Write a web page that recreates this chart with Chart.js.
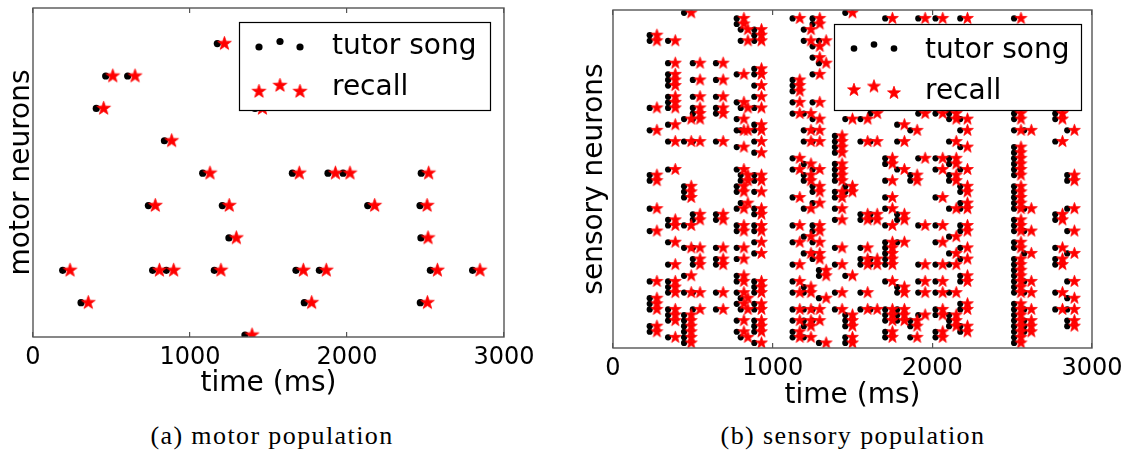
<!DOCTYPE html>
<html lang="en">
<head>
<meta charset="UTF-8">
<title>tutor song / recall rasters</title>
<script src="https://cdn.jsdelivr.net/npm/chart.js"></script>
<style>
  body { margin: 0; width: 1144px; height: 457px; background: #fff; position: relative; overflow: hidden; }
  .panel { position: absolute; top: 0; }
  #motorBox { left: 0; width: 560px; height: 410px; }
  #sensoryBox { left: 570px; width: 574px; height: 420px; }
  .caption {
    position: absolute; top: 421px; transform: translateX(-50%);
    font-family: "Liberation Serif", "DejaVu Serif", serif; font-size: 26px;
    letter-spacing: 1.4px; white-space: nowrap; color: #000;
  }
</style>
</head>
<body>
<div class="panel" id="motorBox"><canvas id="motorChart"></canvas></div>
<div class="panel" id="sensoryBox"><canvas id="sensoryChart"></canvas></div>
<div class="caption" style="left:272px">(a) motor population</div>
<div class="caption" style="left:853px">(b) sensory population</div>

<script>
// ---- data (ms) ----
const xTicks = [0, 1000, 2000, 3000];

// motor population: one list of spike times per neuron (neuron 0 = bottom row)
const motorNeurons = [0, 1, 2, 3, 4, 5, 6, 7, 8, 9];
const motorTutorTimes = [
  [1350],
  [306, 1728, 2467],
  [189, 762, 849, 1155, 1675, 1824, 2531, 2800],
  [1248, 2471],
  [735, 1206, 2132, 2465],
  [1081, 1652, 1879, 1975, 2473],
  [837],
  [403, 1414],
  [463, 603],
  [1174]
];
const motorRecallTimes = [
  [1395],
  [352, 1775, 2512],
  [236, 805, 896, 1197, 1722, 1868, 2576, 2847],
  [1295, 2516],
  [779, 1250, 2176, 2510],
  [1127, 1696, 1926, 2019, 2520],
  [883],
  [450, 1461],
  [508, 650],
  [1219]
];

// sensory population: spike columns (time) and the neurons firing in each
const sensoryTutorTimes  = [230, 345, 445, 500, 645, 775, 800, 885, 1125, 1195, 1250, 1290, 1390, 1455,
                            1550, 1612, 1705, 1780, 1862, 1912, 2020, 2105, 2175, 2512, 2575, 2770, 2845];
const sensoryRecallTimes = [275, 390, 490, 545, 690, 820, 845, 930, 1170, 1240, 1295, 1335, 1435, 1500,
                            1595, 1655, 1750, 1825, 1905, 1955, 2065, 2150, 2220, 2555, 2620, 2815, 2890];
const sensoryNeurons = [
  [55, 54, 42, 38, 30, 29, 24, 20, 11, 8, 7, 6, 3, 2],
  [54, 50, 48, 47, 46, 44, 43, 42, 39, 36, 31, 22, 21, 18, 14, 11, 10, 9, 6, 5, 4, 1],
  [59, 40, 36, 28, 27, 26, 21, 17, 12, 9, 5, 4, 3, 2, 1, 0],
  [50, 47, 44, 42, 41, 40, 36, 23, 22, 17, 15, 14, 9, 6],
  [50, 47, 44, 42, 41, 36, 23, 22, 17, 15, 14, 9, 6],
  [58, 57, 48, 43, 40, 38, 35, 31, 28, 27, 24, 21, 20, 17, 15, 12, 11, 9, 7, 4, 2],
  [56, 54, 42, 38, 30, 29, 25, 8, 6, 1],
  [56, 55, 54, 49, 48, 46, 44, 42, 39, 38, 36, 34, 30, 29, 27, 24, 23, 21, 20, 18, 16, 11, 10, 9, 7, 6, 4, 3, 2, 0],
  [58, 47, 46, 45, 43, 41, 33, 31, 26, 21, 18, 14, 11, 9, 6, 4, 2, 1],
  [56, 54, 41, 38, 36, 32, 30, 29, 24, 19, 16, 10, 9, 6, 4, 3, 1],
  [58, 57, 53, 51, 48, 43, 40, 38, 36, 31, 28, 27, 25, 21, 20, 18, 16, 15, 6, 4],
  [54, 50, 13, 12, 8, 0],
  [37, 36, 35, 34, 32, 31, 30, 29, 27, 26, 24, 22, 17, 14, 9, 6],
  [59, 40, 28, 27, 12, 5, 4, 3, 1, 0],
  [40, 36, 23, 22, 17, 15, 14, 9, 6],
  [41, 36, 23, 22, 15, 14, 6],
  [58, 33, 32, 29, 26, 24, 21, 18, 17, 16, 15, 14, 11, 6, 5, 4, 2, 1],
  [39, 36, 31, 23, 22, 18, 10, 9, 6, 5, 4],
  [38, 30, 29, 4, 3, 1],
  [58, 41, 33, 21, 14, 11, 9, 5],
  [58, 41, 33, 31, 26, 21, 18, 14, 11, 9, 6, 5, 2, 1],
  [41, 40, 36, 33, 32, 30, 29, 24, 19, 16, 14, 9, 5, 4, 3],
  [58, 40, 38, 35, 31, 28, 27, 25, 24, 21, 20, 17, 15, 12, 11, 7, 6, 3, 2],
  [58, 41, 40, 38, 35, 34, 33, 32, 31, 30, 28, 27, 26, 25, 24, 22, 21, 20, 18, 17, 15, 14, 13, 12, 11, 10, 9, 7, 6, 5, 4, 3, 2, 1, 0],
  [38, 24, 20, 16, 11, 9, 6, 4, 3, 2],
  [41, 40, 36, 23, 22, 17, 15, 14, 9, 6],
  [38, 30, 29, 24, 20, 16, 11, 8, 6, 4, 3]
];

// ---- helpers ----
function byNeuron(neurons, times) {
  const pts = [];
  neurons.forEach((n, i) => times[i].forEach(t => pts.push({ x: t, y: n })));
  return pts;
}
function byColumn(times, neuronLists) {
  const pts = [];
  times.forEach((t, i) => neuronLists[i].forEach(n => pts.push({ x: t, y: n })));
  return pts;
}

// filled five-point star like matplotlib's '*'
function starImage(outer, color) {
  const s = Math.ceil(outer * 2 + 4);
  const c = document.createElement('canvas');
  c.width = s; c.height = s;
  const g = c.getContext('2d');
  g.translate(s / 2, s / 2);
  g.beginPath();
  for (let k = 0; k < 10; k++) {
    const r = k % 2 ? outer * 0.4 : outer;
    const a = -Math.PI / 2 + k * Math.PI / 5;
    g.lineTo(r * Math.cos(a), r * Math.sin(a));
  }
  g.closePath();
  g.fillStyle = color;
  g.fill();
  g.lineWidth = 0.8;
  g.strokeStyle = color;
  g.stroke();
  return c;
}

const FONT = '"DejaVu Sans", Verdana, sans-serif';

// frame around the axes + the boxed legend with three markers per entry
const frameAndLegend = {
  id: 'frameAndLegend',
  afterDatasetsDraw(chart, args, o) {
    const ctx = chart.ctx, a = chart.chartArea;
    ctx.save();
    ctx.strokeStyle = '#555';
    ctx.lineWidth = 1.4;
    ctx.strokeRect(a.left, a.top, a.right - a.left, a.bottom - a.top);

    const x0 = Math.round(a.right - o.right - o.width), y0 = Math.round(a.top + o.top);
    ctx.fillStyle = '#fff';
    ctx.fillRect(x0, y0, o.width, o.height);
    ctx.strokeStyle = '#000';
    ctx.lineWidth = 1.2;
    ctx.strokeRect(x0 + 0.5, y0 + 0.5, o.width, o.height);

    o.markerX.forEach((mx, k) => {
      ctx.fillStyle = '#000';
      ctx.beginPath();
      ctx.arc(x0 + mx, y0 + o.dotY[k], o.dotR, 0, 2 * Math.PI);
      ctx.fill();
      ctx.drawImage(o.star, x0 + mx - o.star.width / 2, y0 + o.starY[k] - o.star.height / 2);
    });
    ctx.fillStyle = '#000';
    ctx.font = '28px ' + FONT;
    ctx.textBaseline = 'alphabetic';
    const ds = chart.data.datasets;
    ctx.fillText(ds[1].label, x0 + o.textX, y0 + o.textY[0]);
    ctx.fillText(ds[0].label, x0 + o.textX, y0 + o.textY[1]);
    ctx.restore();
  }
};

function rasterChart(id, cfg) {
  const tickGrid = { drawOnChartArea: false, drawTicks: true, tickLength: -5, color: '#555', lineWidth: 1.2 };
  return new Chart(document.getElementById(id), {
    type: 'scatter',
    data: {
      datasets: [
        { label: 'recall', data: cfg.recall, pointStyle: cfg.starImg, pointRadius: cfg.starR,
          hoverRadius: cfg.starR, clip: 0, order: 0 },
        { label: 'tutor song', data: cfg.tutor, pointStyle: 'circle', pointRadius: cfg.dotR,
          backgroundColor: '#000', borderWidth: 0, clip: 0, order: 1 }
      ]
    },
    options: {
      responsive: true,
      maintainAspectRatio: false,
      animation: false,
      events: [],
      layout: { padding: cfg.padding },
      plugins: {
        legend: { display: false },
        tooltip: { enabled: false },
        frameAndLegend: cfg.legend
      },
      scales: {
        x: {
          type: 'linear', position: 'bottom', min: 0, max: 3000,
          afterBuildTicks: s => { s.ticks = xTicks.map(v => ({ value: v })); },
          ticks: { color: '#000', font: { family: FONT, size: 24 }, padding: 11, maxRotation: 0, autoSkip: false,
                   callback: v => String(v) },
          grid: tickGrid,
          border: { display: false },
          title: { display: true, text: 'time (ms)', color: '#000', font: { family: FONT, size: 28 },
                   padding: { top: 0, bottom: cfg.xTitlePad } },
          afterFit: s => { s.height = cfg.xHeight; }
        },
        xTop: {
          type: 'linear', position: 'top', min: 0, max: 3000,
          afterBuildTicks: s => { s.ticks = xTicks.map(v => ({ value: v })); },
          ticks: { display: false },
          grid: tickGrid,
          border: { display: false },
          afterFit: s => { s.height = 0; }
        },
        y: {
          type: 'linear', position: 'left', min: cfg.yMin, max: cfg.yMax,
          ticks: { display: false },
          grid: { display: false },
          border: { display: false },
          title: { display: true, text: cfg.yTitle, color: '#000', font: { family: FONT, size: 28 },
                   padding: { top: cfg.yTitlePad, bottom: 0 } },
          afterFit: s => { s.width = cfg.yWidth; }
        }
      }
    },
    plugins: [frameAndLegend]
  });
}

// ---- motor panel ----
rasterChart('motorChart', {
  tutor: byNeuron(motorNeurons, motorTutorTimes),
  recall: byNeuron(motorNeurons, motorRecallTimes),
  starImg: starImage(7.2, '#ff0000'), starR: 7, dotR: 3.6,
  padding: { top: 3, right: 56, left: 0, bottom: 0 },
  xHeight: 73, xTitlePad: 9, yWidth: 33, yTitlePad: 5,
  yMin: -0.06, yMax: 10.1, yTitle: 'motor neurons',
  legend: { right: 14, top: 14, width: 251, height: 88,
            markerX: [20, 41, 61], dotY: [25, 19.5, 25], starY: [69.5, 63.5, 69.5], dotR: 3.6,
            star: starImage(7.2, '#ff0000'), textX: 93, textY: [32, 72.5] }
});

// ---- sensory panel ----
rasterChart('sensoryChart', {
  tutor: byColumn(sensoryTutorTimes, sensoryNeurons),
  recall: byColumn(sensoryRecallTimes, sensoryNeurons),
  starImg: starImage(6.2, '#ff0000'), starR: 6, dotR: 3.1,
  padding: { top: 10, right: 52, left: 0, bottom: 0 },
  xHeight: 72, xTitlePad: 7, yWidth: 43, yTitlePad: 8,
  yMin: -0.9, yMax: 59.5, yTitle: 'sensory neurons',
  legend: { right: 11, top: 14, width: 247, height: 86,
            markerX: [20, 40, 60], dotY: [24.5, 20.5, 24.5], starY: [66, 62.5, 69], dotR: 3.3,
            star: starImage(6.8, '#ff0000'), textX: 91, textY: [34, 75] }
});
</script>
</body>
</html>
